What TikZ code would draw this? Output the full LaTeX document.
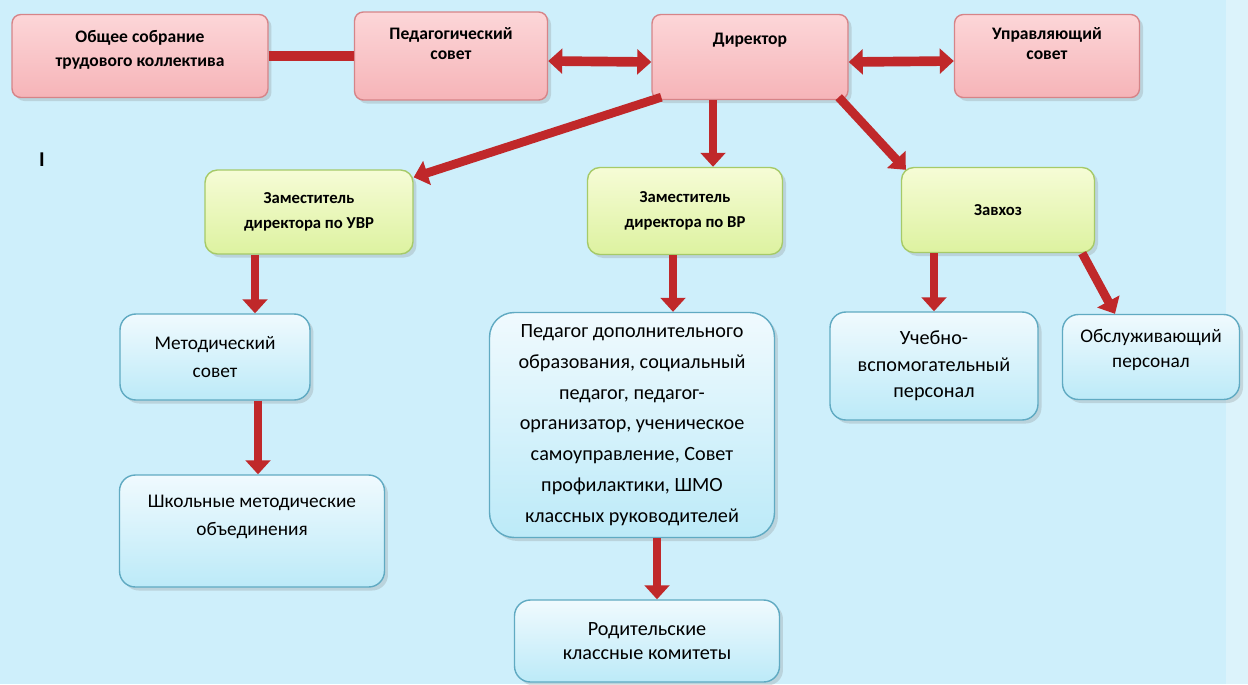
\documentclass[tikz,border=0pt]{standalone}
\usepackage{fontspec}
\setmainfont{Carlito}
\usetikzlibrary{arrows.meta,shadows}
\definecolor{bgblue}{RGB}{206,239,251}
\definecolor{bgedge}{RGB}{220,243,251}
\definecolor{pinktop}{RGB}{252,214,216}
\definecolor{pinkbot}{RGB}{246,180,184}
\definecolor{pinkline}{RGB}{214,132,136}
\definecolor{greentop}{RGB}{246,252,214}
\definecolor{greenbot}{RGB}{221,242,160}
\definecolor{greenline}{RGB}{166,202,104}
\definecolor{bluetop}{RGB}{240,250,254}
\definecolor{bluebot}{RGB}{188,234,248}
\definecolor{blueline}{RGB}{96,170,194}
\definecolor{arrowred}{RGB}{192,40,42}
\begin{document}
\begin{tikzpicture}[x=0.02cm,y=-0.02cm,
  box/.style={rectangle,line width=0.8pt,align=center,inner sep=2pt,
    drop shadow={opacity=0.25,shadow xshift=2pt,shadow yshift=-2pt}},
  pinkbox/.style={box,draw=pinkline,rounded corners=5pt,top color=pinktop,bottom color=pinkbot,
    font=\bfseries\fontsize{10}{13.5}\selectfont},
  greenbox/.style={box,draw=greenline,rounded corners=7pt,top color=greentop,bottom color=greenbot,
    font=\bfseries\fontsize{9.5}{14}\selectfont},
  bluebox/.style={box,draw=blueline,rounded corners=9pt,top color=bluetop,bottom color=bluebot,
    font=\fontsize{11}{15.5}\selectfont},
  bar/.style={draw=arrowred,line width=5.5pt},
  link/.style={draw=arrowred,line width=5pt,-{Triangle[width=14pt,length=8pt]}},
  biglink/.style={draw=arrowred,line width=5.5pt,{Triangle[width=14pt,length=8pt]}-{Triangle[width=14pt,length=8pt]}}]

% background
\fill[bgblue] (0,0) rectangle (1248,684);
\fill[bgedge] (1226,0) rectangle (1248,684);

% top row
\node [pinkbox,minimum width=5.12cm,minimum height=1.66cm,text depth=9pt] (obsh) at(140,56){Общее собрание\\трудового коллектива};
\node [pinkbox,minimum width=3.86cm,minimum height=1.76cm,text depth=14pt,font=\bfseries\fontsize{10}{11.5}\selectfont] (ped) at(451,56){Педагогический\\совет};
\node [pinkbox,minimum width=3.92cm,minimum height=1.7cm,text depth=21pt] (dir) at(750,57){Директор};
\node [pinkbox,minimum width=3.7cm,minimum height=1.66cm,text depth=14pt,font=\bfseries\fontsize{10}{11.5}\selectfont] (upr) at(1047,56){Управляющий\\совет};

\node [font=\bfseries\fontsize{12}{14}\selectfont] (mark) at(42,160){I};

% deputies
\node [greenbox,minimum width=4.16cm,minimum height=1.68cm] (uvr) at(309,212){Заместитель\\директора по УВР};
\node [greenbox,minimum width=3.9cm,minimum height=1.74cm] (vr) at(685,211){Заместитель\\директора по ВР};
\node [greenbox,minimum width=3.86cm,minimum height=1.7cm] (zav) at(998,210){Завхоз};

% lower level
\node [bluebox,minimum width=3.8cm,minimum height=1.72cm] (metod) at(215,357){Методический\\совет};
\node [bluebox,minimum width=5.3cm,minimum height=2.24cm,text depth=18pt] (shmo) at(252,531){Школьные методические\\объединения};
\node [bluebox,minimum width=5.7cm,minimum height=4.5cm,font=\fontsize{11.5}{17.5}\selectfont,rounded corners=14pt] (pdo) at(632,425){Педагог дополнительного\\образования, социальный\\педагог, педагог-\\организатор, ученическое\\самоуправление, Совет\\профилактики, ШМО\\классных руководителей};
\node [bluebox,minimum width=5.3cm,minimum height=1.64cm,font=\fontsize{11.5}{14}\selectfont] (rod) at(647,641){Родительские\\классные комитеты};
\node [bluebox,minimum width=4.16cm,minimum height=2.16cm,font=\fontsize{11.5}{15}\selectfont] (uch) at(934,366){Учебно-\\вспомогательный\\персонал};
\node [bluebox,minimum width=3.54cm,minimum height=1.7cm,text depth=10pt,font=\fontsize{11}{14}\selectfont] (obsl) at(1151,357){Обслуживающий\\персонал};

% connectors
\draw[bar] (obsh.east) -- (ped.west);
\draw[biglink] ([yshift=-0.1cm]ped.east) -- ([yshift=-0.1cm]dir.west);
\draw[biglink] ([yshift=-0.1cm]dir.east) -- ([yshift=-0.1cm]upr.west);

\draw[link] ([xshift=0.2cm,yshift=0.06cm]dir.south west) -- ([yshift=-0.16cm]uvr.north east);
\draw[link] ([xshift=-0.74cm]dir.south) -- ([xshift=-0.74cm]dir.south |- vr.north);
\draw[link] ([xshift=-0.2cm,yshift=0.06cm]dir.south east) -- ([xshift=0.1cm,yshift=-0.06cm]zav.north west);

\draw[link] ([xshift=-1.08cm]uvr.south) -- ([xshift=-1.08cm]uvr.south |- metod.north);
\draw[link] ([xshift=0.12cm]metod.south -| shmo.north) -- ([xshift=0.12cm]shmo.north);
\draw[link] ([xshift=-0.24cm]vr.south) -- ([xshift=-0.24cm]vr.south |- pdo.north);
\draw[link] ([xshift=0.2cm]rod.north |- pdo.south) -- ([xshift=0.2cm]rod.north);
\draw[link] (zav.south -| uch.north) -- (uch.north);
\draw[link] ([xshift=-0.26cm]zav.south east) -- ([xshift=-0.72cm]obsl.north);

\end{tikzpicture}
\end{document}
